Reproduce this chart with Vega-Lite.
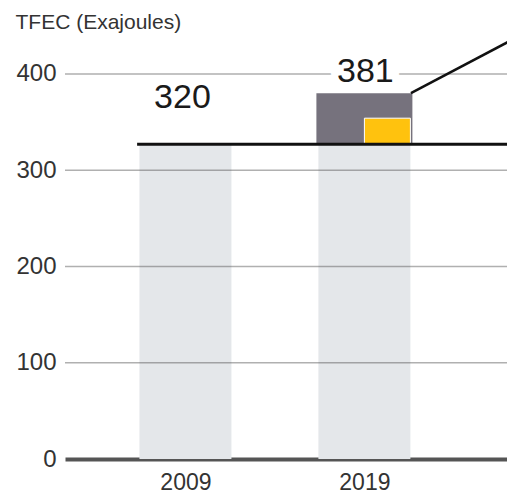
{
  "$schema": "https://vega.github.io/schema/vega-lite/v6.json",
  "width": 449,
  "height": 414,
  "autosize": {"type": "none"},
  "padding": {"left": 65, "top": 45, "right": 0, "bottom": 36},
  "config": {"view": {"stroke": null}, "font": "Liberation Sans"},
  "datasets": {
    "tfec": [
      {"year": 2009, "value": 320, "bar": 327},
      {"year": 2019, "value": 381, "bar": 327}
    ],
    "parts": [
      {"year": 2019, "part": "total", "from": 327, "to": 380},
      {"year": 2019, "part": "yellow", "from": 327, "to": 354}
    ]
  },
  "layer": [
    {
      "data": {"name": "tfec"},
      "mark": {"type": "bar", "width": 92, "color": "#e4e7ea"},
      "encoding": {
        "x": {
          "field": "year", "type": "quantitative",
          "scale": {"domain": [2002.55, 2027.08], "nice": false, "zero": false},
          "axis": {"values": [2009, 2019], "format": "d", "title": null, "grid": false, "ticks": false,
                   "labelFontSize": 23, "labelColor": "#333", "labelPadding": 12, "labelFlush": false,
                   "domainColor": "#555", "domainWidth": 4}
        },
        "y": {
          "field": "bar", "type": "quantitative",
          "scale": {"domain": [0, 430], "nice": false},
          "axis": {"values": [0, 100, 200, 300, 400], "grid": false, "domain": false, "ticks": false,
                   "labelFontSize": 24, "labelPadding": 9, "labelColor": "#333",
                   "title": "TFEC (Exajoules)", "titleAngle": 0, "titleAlign": "left", "titleBaseline": "alphabetic",
                   "titleX": -50, "titleY": -17, "titleFontSize": 21, "titleFontWeight": "normal", "titleColor": "#333"}
        }
      }
    },
    {
      "data": {"values": [{"v": 100}, {"v": 200}, {"v": 300}, {"v": 400}]},
      "mark": {"type": "rule", "color": "#4b4b4b", "opacity": 0.44, "strokeWidth": 1.5},
      "encoding": {"y": {"field": "v", "type": "quantitative"}}
    },
    {
      "data": {"name": "parts"},
      "transform": [{"filter": "datum.part == 'total'"}],
      "mark": {"type": "bar", "width": 96, "color": "#76727d"},
      "encoding": {
        "x": {"field": "year", "type": "quantitative"},
        "y": {"field": "from", "type": "quantitative"},
        "y2": {"field": "to"}
      }
    },
    {
      "data": {"name": "parts"},
      "transform": [{"filter": "datum.part == 'yellow'"}],
      "mark": {"type": "bar", "width": 46, "xOffset": 23, "color": "#ffc20e", "stroke": "white", "strokeWidth": 1},
      "encoding": {
        "x": {"field": "year", "type": "quantitative"},
        "y": {"field": "from", "type": "quantitative"},
        "y2": {"field": "to"}
      }
    },
    {
      "data": {"values": [{"start": 2006.3, "end": 2027.08, "level": 327}]},
      "mark": {"type": "rule", "color": "#111", "strokeWidth": 3},
      "encoding": {
        "x": {"field": "start", "type": "quantitative"},
        "x2": {"field": "end"},
        "y": {"field": "level", "type": "quantitative"}
      }
    },
    {
      "data": {"values": [{"x1": 2021.6, "y1": 380, "x2": 2027.08, "y2": 433.7}]},
      "mark": {"type": "rule", "color": "#111", "strokeWidth": 2.5},
      "encoding": {
        "x": {"field": "x1", "type": "quantitative"},
        "x2": {"field": "x2"},
        "y": {"field": "y1", "type": "quantitative"},
        "y2": {"field": "y2"}
      }
    },
    {
      "data": {"name": "tfec"},
      "transform": [{"filter": "datum.year == 2019"}],
      "mark": {"type": "text", "fontSize": 34, "dy": -20, "dx": 1, "baseline": "middle", "fill": "white", "stroke": "white", "strokeWidth": 14},
      "encoding": {
        "x": {"field": "year", "type": "quantitative"},
        "y": {"field": "value", "type": "quantitative"},
        "text": {"field": "value", "type": "quantitative"}
      }
    },
    {
      "data": {"name": "tfec"},
      "transform": [{"filter": "datum.year == 2019"}],
      "mark": {"type": "text", "fontSize": 34, "dy": -20, "dx": 1, "baseline": "middle", "color": "#1a1a1a"},
      "encoding": {
        "x": {"field": "year", "type": "quantitative"},
        "y": {"field": "value", "type": "quantitative"},
        "text": {"field": "value", "type": "quantitative"}
      }
    },
    {
      "data": {"name": "tfec"},
      "transform": [{"filter": "datum.year == 2009"}],
      "mark": {"type": "text", "fontSize": 34, "dy": -53, "dx": -3, "baseline": "middle", "color": "#1a1a1a"},
      "encoding": {
        "x": {"field": "year", "type": "quantitative"},
        "y": {"field": "value", "type": "quantitative"},
        "text": {"field": "value", "type": "quantitative"}
      }
    }
  ]
}
